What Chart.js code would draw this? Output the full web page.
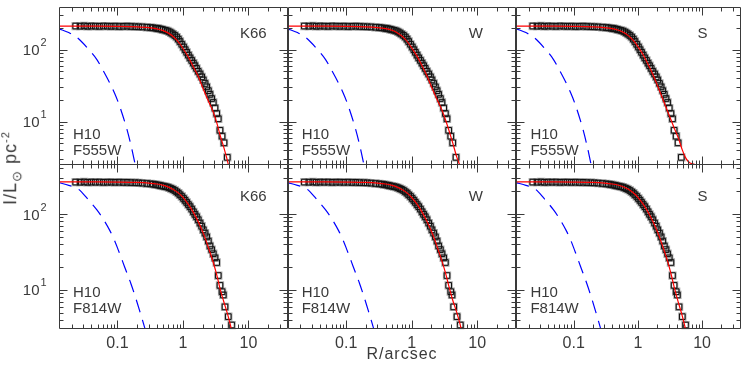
<!DOCTYPE html>
<html><head><meta charset="utf-8">
<script src="https://cdn.jsdelivr.net/npm/chart.js@4.4.1/dist/chart.umd.min.js"></script>
<style>
html,body{margin:0;padding:0;background:#fff;width:747px;height:370px;overflow:hidden;position:relative;}
canvas{position:absolute;left:0;top:0;}
.ttl{position:absolute;font-family:"Liberation Sans",Arial,Helvetica,sans-serif;color:#3a3a3a;white-space:nowrap;font-size:16px;line-height:16px;}
</style></head><body>
<div id="wrap"></div>
<div class="ttl" id="xt" style="left:402px;top:346px;transform:translateX(-50%);letter-spacing:1px;">R/arcsec</div>
<div class="ttl" id="yt" style="left:11px;top:168px;font-size:18px;line-height:18px;letter-spacing:1px;transform:translate(-50%,-50%) rotate(-90deg);">I/L<sub style="font-size:13px;">⊙</sub> pc<sup style="font-size:11px;">-2</sup></div>
<script>
// ---------- data ----------
const modelNames = ['K66', 'W', 'S'];
const filterNames = ['F555W', 'F814W'];
const clusterName = 'H10';
const xTickValues = [0.1, 1, 10];
const xTickLabels = ['0.1', '1', '10'];
const yTickValues = [10, 100];
const yTickBase = ['10', '10'];
const yTickExp = ['1', '2'];

// observed profile, F555W
const dataR555 = [0.023,0.027,0.031,0.035,0.040,0.046,0.053,0.061,0.070,0.080,0.092,0.106,0.122,0.140,0.160,0.185,0.21,0.24,0.28,0.32,
  0.35,0.38,0.41,0.44,0.47,0.50,0.54,0.58,0.62,0.66,
  0.70,0.75,0.80,0.85,0.90,0.96,1.02,1.08,1.14,1.21,
  1.28,1.36,1.44,1.52,1.61,1.71,1.82,1.93,2.04,2.17,
  2.30,2.44,2.58,2.74,2.90,3.08,3.27,3.46,3.67,3.95,
  4.23,4.75];
const dataI555 = [213,212,214,211,213,212,211,213,212,211,212,210,211,212,210,209,208,207,205,203,
  201,199,197,195,192,189,186,182,177,171,
  165,158,150,140,130,119,109,100,92,84,
  77,71,65,60,55,50,46,42,38,34,
  30.5,27,24,21,18.5,15.5,13,11,7.6,6.3,
  5.1,3.2];
// observed profile, F814W
const dataR814 = [0.023,0.027,0.031,0.035,0.040,0.046,0.053,0.061,0.070,0.080,0.092,0.106,0.122,0.140,0.160,0.185,0.21,0.24,0.28,0.32,
  0.35,0.38,0.41,0.44,0.47,0.50,0.54,0.58,0.62,0.66,
  0.70,0.75,0.80,0.85,0.90,0.96,1.02,1.08,1.14,1.21,
  1.28,1.36,1.44,1.52,1.61,1.71,1.82,1.93,2.04,2.17,
  2.30,2.44,2.58,2.74,2.90,3.08,3.27,3.46,3.67,3.95,
  4.13,4.38,4.92,5.53];
const dataI814 = [263,262,264,261,263,262,263,261,262,262,261,262,260,261,259,258,257,255,252,249,
  247,244,241,238,235,232,229,226,221,216,
  211,204,196,188,179,170,160,151,142,133,
  125,116,107,99,92,84,76,69,62,56,
  50,44,38,34,30,26.5,23,15.5,11.5,9.5,
  8.6,6.0,4.46,3.46];

// model fits
const modelR = [0.0128,0.05,0.1,0.2,0.3,0.4,0.5,0.6,0.7,0.8,0.9,1.0,1.2,1.44,1.7,2.04,2.4,2.9,3.3,3.67,4.2,4.9,5.5,6.0,6.5,7.0,7.6];
const modelK66_555 = [212,212,211,208,203,195,184,170,154,137,120,104,80,58,43,28.5,20,13.6,9.5,6.6,4.4,2.6,1.5,1.0,0.6,0.3,0.1];
const modelW_555   = [212,212,211,208,203,196,186,172,156,139,122,106,82,60,44,29.5,21,14.5,10.5,7.8,5.2,3.2,2.4,1.8,1.3,0.9,0.5];
const modelS_555   = [212,212,211,208,203,196,186,173,158,142,126,110,86,63,46,31,21.5,14,10.5,8.2,6.2,4.1,3.2,2.85,2.68,2.62,2.58];
const modelK66_814 = [264,264,263,260,255,248,238,226,212,197,181,165,135,105,80,56,38,23,15.5,10.5,7.0,4.5,3.0,2.0,1.3,0.8,0.4];
const modelW_814   = [264,264,263,260,255,248,238,226,212,197,181,165,136,106,81,57,39,24,16.5,11.5,7.5,5.0,3.5,2.5,1.8,1.2,0.7];
const modelS_814   = [264,264,263,260,255,248,239,227,213,198,182,166,136,106,81,57,39,24,16,11,7.2,4.6,3.1,2.2,1.5,1.0,0.6];

// PSF profiles
const psfR = [0.0128,0.018,0.0252,0.035,0.0482,0.06,0.0769,0.09,0.103,0.12,0.138,0.16,0.185,0.22,0.26,0.3];
const psf555 = [195,173,143,105,73.6,52,34,25,18.5,12.3,8.1,4.8,2.63,1.2,0.5,0.25];
const psf814 = [259,238,213,158,114,87,60,45,33.5,23.6,17.1,12.2,8.4,5.2,3.2,2.1];

// ---------- layout ----------
const W = 747, H = 370;
const colLeft0 = 59, colW = 228.7;
const rowTop = [0, 164], rowBottom = [164, 328];
const xRange = [0.0128, 39.7];
const yRanges = [[2.59, 398], [3.162, 455]];
const FAM = '"Liberation Sans", Arial, Helvetica, sans-serif';
const TXT = '#3a3a3a';

const rows = [
  {dataR: dataR555, dataI: dataI555, psf: psf555, models: [modelK66_555, modelW_555, modelS_555]},
  {dataR: dataR814, dataI: dataI814, psf: psf814, models: [modelK66_814, modelW_814, modelS_814]}
];

function pts(xs, ys) { return xs.map((v, i) => ({x: v, y: ys[i]})); }

function decorPlugin(row, col) {
  return {
    id: 'decor' + row + col,
    afterDraw(chart) {
      const ctx = chart.ctx;
      const a = chart.chartArea;
      const xs = chart.scales.x, ys = chart.scales.y;
      const L = Math.round(a.left) + 0.5, R = Math.round(a.right) - 0.5;
      const T = Math.round(a.top) + 0.5, B = Math.round(a.bottom) + 0.5;
      ctx.save();
      ctx.strokeStyle = '#3a3a3a';
      ctx.lineWidth = 1;
      ctx.beginPath();
      ctx.rect(L, T, R - L, B - T);
      ctx.stroke();
      ctx.beginPath();
      for (let d = -2; d <= 1; d++) {
        for (let k = 1; k <= 9; k++) {
          const v = k * Math.pow(10, d);
          if (v < xs.min || v > xs.max) continue;
          const px = Math.round(xs.getPixelForValue(v)) + 0.5;
          const len = k === 1 ? 8 : 4;
          ctx.moveTo(px, B); ctx.lineTo(px, B - len);
          ctx.moveTo(px, T); ctx.lineTo(px, T + len);
        }
      }
      for (let d = 0; d <= 2; d++) {
        for (let k = 1; k <= 9; k++) {
          const v = k * Math.pow(10, d);
          if (v < ys.min || v > ys.max) continue;
          const py = Math.round(ys.getPixelForValue(v)) + 0.5;
          const len = k === 1 ? 8 : 4;
          ctx.moveTo(L, py); ctx.lineTo(L + len, py);
          ctx.moveTo(R, py); ctx.lineTo(R - len, py);
        }
      }
      ctx.stroke();
      ctx.fillStyle = TXT;
      if (row === 1) {
        ctx.font = '16px ' + FAM;
        ctx.textAlign = 'center';
        ctx.textBaseline = 'alphabetic';
        xTickValues.forEach((v, i) => {
          ctx.fillText(xTickLabels[i], xs.getPixelForValue(v), 348);
        });
      }
      if (col === 0) {
        yTickValues.forEach((v, i) => {
          const py = ys.getPixelForValue(v);
          ctx.font = '11px ' + FAM;
          ctx.textAlign = 'left';
          ctx.fillText(yTickExp[i], 40.5, py - 3.5);
          ctx.font = '15px ' + FAM;
          ctx.textAlign = 'right';
          ctx.fillText(yTickBase[i], 39.5, py + 5.5);
        });
      }
      ctx.font = '15px ' + FAM;
      ctx.textAlign = 'left';
      const off = row === 0 ? [31, 132, 148] : [200.7 - 164, 296.7 - 164, 313.3 - 164];
      ctx.fillText(modelNames[col], a.left + 181, a.top + off[0]);
      ctx.fillText(clusterName, a.left + 14, a.top + off[1]);
      ctx.fillText(filterNames[row], a.left + 14, a.top + off[2]);
      ctx.restore();
    }
  };
}

const wrap = document.getElementById('wrap');
for (let row = 0; row < 2; row++) {
  for (let col = 0; col < 3; col++) {
    const cv = document.createElement('canvas');
    cv.width = W; cv.height = H;
    cv.style.width = W + 'px'; cv.style.height = H + 'px';
    wrap.appendChild(cv);
    const left = colLeft0 + col * colW;
    const r = rows[row];
    new Chart(cv, {
      type: 'scatter',
      data: {
        datasets: [
          {data: pts(modelR, r.models[col]), showLine: true, borderColor: '#ff0000', borderWidth: 1.2,
           pointRadius: 0, cubicInterpolationMode: 'monotone', clip: 0},
          {data: pts(r.dataR, r.dataI), showLine: false, pointStyle: 'rect', pointRadius: 4.0,
           borderColor: '#111', borderWidth: 1, backgroundColor: 'rgba(0,0,0,0)', clip: false},
          {data: pts(r.dataR, r.dataI), showLine: false, pointStyle: 'rect', pointRadius: 4.3,
           borderColor: 'rgba(140,140,140,0.75)', borderWidth: 2.2, backgroundColor: 'rgba(0,0,0,0)', clip: false},
          {data: pts(psfR, r.psf), showLine: true, borderColor: '#0000ff', borderWidth: 1.2, borderDash: [13, 8],
           pointRadius: 0, cubicInterpolationMode: 'monotone', clip: 0}
        ]
      },
      options: {
        responsive: false, animation: false, events: [],
        devicePixelRatio: 1,
        layout: {padding: {left: left, right: W - (left + colW), top: rowTop[row], bottom: H - rowBottom[row]}},
        scales: {
          x: {type: 'logarithmic', min: xRange[0], max: xRange[1], display: false},
          y: {type: 'logarithmic', min: yRanges[row][0], max: yRanges[row][1], display: false}
        },
        plugins: {legend: {display: false}, tooltip: {enabled: false}}
      },
      plugins: [decorPlugin(row, col)]
    });
  }
}
</script>
</body></html>
